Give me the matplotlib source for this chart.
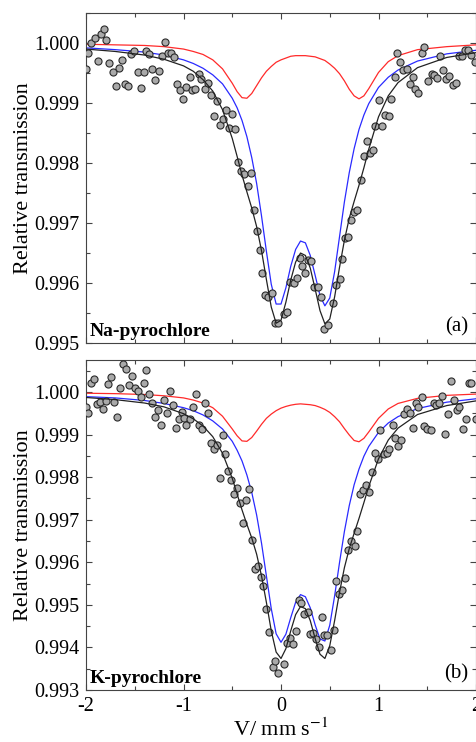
import matplotlib.pyplot as plt
from matplotlib.ticker import MultipleLocator, FormatStrFormatter

plt.rcParams['font.family'] = 'Liberation Serif'
plt.rcParams['mathtext.fontset'] = 'stix'
plt.rcParams['axes.unicode_minus'] = False

# Na-pyrochlore: measured spectrum
na_v = [-2.00, -1.98, -1.95, -1.91, -1.88, -1.85, -1.82, -1.79, -1.76, -1.72,
        -1.69, -1.66, -1.63, -1.60, -1.57, -1.54, -1.51, -1.47, -1.44, -1.41,
        -1.38, -1.35, -1.32, -1.29, -1.25, -1.22, -1.19, -1.16, -1.13, -1.10,
        -1.07, -1.04, -1.01, -0.97, -0.93, -0.91, -0.88, -0.84, -0.82, -0.78,
        -0.75, -0.72, -0.69, -0.66, -0.63, -0.60, -0.56, -0.53, -0.50, -0.47,
        -0.44, -0.41, -0.38, -0.34, -0.31, -0.28, -0.25, -0.22, -0.19, -0.16,
        -0.13, -0.09, -0.06, -0.03, 0.03, 0.065, 0.09, 0.13, 0.16, 0.195,
        0.215, 0.25, 0.275, 0.31, 0.34, 0.38, 0.41, 0.445, 0.48, 0.535,
        0.565, 0.605, 0.63, 0.655, 0.69, 0.72, 0.75, 0.78, 0.82, 0.85,
        0.88, 0.91, 0.94, 0.965, 1.01, 1.035, 1.07, 1.105, 1.13, 1.165,
        1.19, 1.225, 1.25, 1.29, 1.325, 1.35, 1.375, 1.41, 1.445, 1.47,
        1.51, 1.545, 1.57, 1.605, 1.635, 1.665, 1.69, 1.725, 1.76, 1.795,
        1.83, 1.855, 1.885, 1.92, 1.945, 1.99]
na_t = [0.99956, 0.99983, 1.00000, 1.00008, 0.99970, 1.00015, 1.00023, 1.00005, 0.99967, 0.99951,
        0.99929, 0.99958, 0.99972, 0.99932, 0.99928, 0.99981, 0.99986, 0.99951, 0.99925, 0.99952,
        0.99986, 0.99981, 0.99956, 0.99938, 0.99953, 0.99978, 1.00001, 0.99983, 0.99983, 0.99976,
        0.99931, 0.99922, 0.99906, 0.99926, 0.99943, 0.99921, 0.99924, 0.99948, 0.99940, 0.99923,
        0.99934, 0.99913, 0.99878, 0.99904, 0.99863, 0.99873, 0.99889, 0.99859, 0.99882, 0.99856,
        0.99802, 0.99787, 0.99782, 0.99762, 0.99784, 0.99722, 0.99687, 0.99655, 0.99616, 0.99580,
        0.99577, 0.99583, 0.99533, 0.99533, 0.99548, 0.99551, 0.99602, 0.99600, 0.99608, 0.99641,
        0.99628, 0.99616, 0.99638, 0.99637, 0.99593, 0.99593, 0.99576, 0.99524, 0.99530, 0.99566,
        0.99596, 0.99606, 0.99640, 0.99675, 0.99677, 0.99705, 0.99718, 0.99722, 0.99772, 0.99812,
        0.99837, 0.99816, 0.99822, 0.99861, 0.99905, 0.99861, 0.99880, 0.99878, 0.99906, 0.99944,
        0.99984, 0.99969, 0.99955, 0.99956, 0.99932, 0.99944, 0.99923, 0.99917, 0.99984, 0.99993,
        0.99936, 0.99948, 0.99947, 0.99941, 0.99978, 0.99955, 0.99940, 0.99945, 0.99930, 0.99934,
        0.99978, 0.99978, 0.99989, 0.99989, 0.99980, 0.99969]

# K-pyrochlore: measured spectrum
k_v = [-2.00, -1.98, -1.95, -1.92, -1.89, -1.86, -1.83, -1.80, -1.77, -1.74,
       -1.71, -1.68, -1.65, -1.62, -1.59, -1.56, -1.53, -1.50, -1.47, -1.44,
       -1.41, -1.38, -1.35, -1.32, -1.29, -1.26, -1.23, -1.20, -1.17, -1.14,
       -1.11, -1.08, -1.05, -1.02, -0.99, -0.97, -0.93, -0.90, -0.87, -0.84,
       -0.81, -0.78, -0.75, -0.72, -0.69, -0.66, -0.63, -0.60, -0.57, -0.54,
       -0.51, -0.48, -0.45, -0.42, -0.39, -0.36, -0.33, -0.30, -0.27, -0.24,
       -0.21, -0.18, -0.15, -0.12, -0.085, -0.06, -0.03, 0.03, 0.065, 0.09,
       0.125, 0.15, 0.18, 0.21, 0.24, 0.275, 0.30, 0.325, 0.36, 0.385,
       0.42, 0.445, 0.475, 0.51, 0.54, 0.565, 0.595, 0.625, 0.66, 0.69,
       0.72, 0.755, 0.78, 0.81, 0.845, 0.87, 0.905, 0.935, 0.96, 0.995,
       1.02, 1.06, 1.085, 1.11, 1.145, 1.17, 1.205, 1.23, 1.26, 1.29,
       1.32, 1.355, 1.385, 1.41, 1.445, 1.47, 1.50, 1.535, 1.565, 1.59,
       1.625, 1.655, 1.685, 1.715, 1.745, 1.775, 1.80, 1.83, 1.865, 1.895,
       1.925, 1.95, 2.00]
k_t = [0.99965, 0.99951, 1.00020, 1.00031, 0.99971, 0.99977, 0.99961, 0.99979, 1.00018, 1.00035,
       0.99977, 0.99940, 1.00010, 1.00065, 1.00054, 1.00016, 1.00037, 1.00010, 1.00002, 0.99988,
       1.00021, 1.00051, 0.99995, 0.99974, 0.99940, 0.99957, 0.99923, 0.99982, 0.99951, 1.00002,
       0.99969, 0.99916, 0.99936, 0.99953, 0.99939, 0.99922, 0.99937, 0.99965, 0.99996, 0.99922,
       0.99914, 0.99973, 0.99951, 0.99880, 0.99867, 0.99875, 0.99797, 0.99898, 0.99855, 0.99815,
       0.99794, 0.99760, 0.99775, 0.99739, 0.99692, 0.99747, 0.99771, 0.99653, 0.99584, 0.99592,
       0.99566, 0.99545, 0.99491, 0.99436, 0.99354, 0.99369, 0.99339, 0.99362, 0.99411, 0.99421,
       0.99408, 0.99439, 0.99512, 0.99505, 0.99478, 0.99484, 0.99431, 0.99433, 0.99419, 0.99400,
       0.99472, 0.99428, 0.99428, 0.99394, 0.99442, 0.99556, 0.99525, 0.99535, 0.99564, 0.99628,
       0.99650, 0.99638, 0.99674, 0.99761, 0.99769, 0.99781, 0.99765, 0.99812, 0.99857, 0.99843,
       0.99910, 0.99855, 0.99857, 0.99867, 0.99922, 0.99893, 0.99873, 0.99888, 0.99948, 0.99961,
       0.99951, 0.99916, 0.99974, 0.99965, 0.99988, 0.99919, 0.99914, 0.99910, 0.99973, 0.99969,
       0.99974, 0.99990, 0.99902, 0.99949, 1.00026, 0.99981, 0.99958, 0.99965, 0.99914, 0.99937,
       1.00021, 1.00021, 0.99937]

# fitted curves: total envelope (black), main doublet (blue), minor doublet (red)
fit_v = [-2.0, -1.7, -1.4, -1.2, -1.0, -0.9, -0.8, -0.7, -0.6, -0.5,
         -0.45, -0.4, -0.35, -0.3, -0.25, -0.2, -0.15, -0.1, -0.05, 0.0,
         0.05, 0.1, 0.15, 0.2, 0.25, 0.3, 0.35, 0.4, 0.45, 0.5,
         0.55, 0.6, 0.65, 0.7, 0.75, 0.8, 0.85, 0.9, 1.0, 1.1,
         1.2, 1.4, 1.7, 2.0]

na_fit = [0.99990, 0.99986, 0.99980, 0.99973, 0.99962, 0.99953, 0.99939, 0.99920, 0.99889, 0.99841,
          0.99811, 0.99780, 0.99752, 0.99725, 0.99694, 0.99654, 0.99606, 0.99560, 0.99533, 0.99538,
          0.99568, 0.99605, 0.99635, 0.99650, 0.99646, 0.99625, 0.99590, 0.99554, 0.99532, 0.99540,
          0.99577, 0.99626, 0.99671, 0.99708, 0.99736, 0.99763, 0.99792, 0.99823, 0.99877, 0.99912,
          0.99934, 0.99959, 0.99976, 0.99984]
na_d1 = [0.99992, 0.99989, 0.99985, 0.99980, 0.99972, 0.99966, 0.99958, 0.99947, 0.99932, 0.99908,
         0.99892, 0.99871, 0.99844, 0.99809, 0.99766, 0.99712, 0.99653, 0.99598, 0.99565, 0.99565,
         0.99592, 0.99628, 0.99656, 0.99670, 0.99667, 0.99646, 0.99613, 0.99579, 0.99562, 0.99575,
         0.99619, 0.99677, 0.99735, 0.99784, 0.99824, 0.99856, 0.99880, 0.99899, 0.99926, 0.99943,
         0.99955, 0.99970, 0.99982, 0.99988]
na_d2 = [0.99998, 0.99997, 0.99996, 0.99994, 0.99990, 0.99986, 0.99981, 0.99972, 0.99957, 0.99933,
         0.99919, 0.99909, 0.99908, 0.99916, 0.99929, 0.99942, 0.99953, 0.99961, 0.99968, 0.99972,
         0.99975, 0.99978, 0.99979, 0.99979, 0.99979, 0.99978, 0.99977, 0.99974, 0.99971, 0.99965,
         0.99958, 0.99949, 0.99937, 0.99923, 0.99912, 0.99907, 0.99912, 0.99924, 0.99951, 0.99969,
         0.99979, 0.99989, 0.99994, 0.99997]

k_fit = [0.99987, 0.99982, 0.99974, 0.99965, 0.99949, 0.99937, 0.99920, 0.99895, 0.99856, 0.99797,
         0.99760, 0.99723, 0.99689, 0.99657, 0.99619, 0.99568, 0.99506, 0.99439, 0.99389, 0.99374,
         0.99397, 0.99439, 0.99477, 0.99496, 0.99491, 0.99463, 0.99421, 0.99384, 0.99374, 0.99404,
         0.99463, 0.99529, 0.99587, 0.99632, 0.99668, 0.99703, 0.99740, 0.99778, 0.99843, 0.99887,
         0.99915, 0.99947, 0.99968, 0.99979]
k_d1 = [0.99989, 0.99986, 0.99980, 0.99973, 0.99963, 0.99956, 0.99946, 0.99932, 0.99913, 0.99884,
        0.99863, 0.99838, 0.99805, 0.99764, 0.99711, 0.99645, 0.99568, 0.99491, 0.99432, 0.99412,
        0.99431, 0.99470, 0.99506, 0.99524, 0.99519, 0.99493, 0.99453, 0.99420, 0.99415, 0.99452,
        0.99521, 0.99599, 0.99672, 0.99733, 0.99782, 0.99819, 0.99849, 0.99872, 0.99905, 0.99927,
        0.99942, 0.99961, 0.99976, 0.99984]
k_d2 = [0.99997, 0.99996, 0.99994, 0.99991, 0.99986, 0.99981, 0.99974, 0.99963, 0.99943, 0.99913,
        0.99897, 0.99885, 0.99884, 0.99893, 0.99908, 0.99924, 0.99938, 0.99948, 0.99956, 0.99962,
        0.99966, 0.99969, 0.99971, 0.99972, 0.99971, 0.99970, 0.99968, 0.99964, 0.99959, 0.99952,
        0.99942, 0.99930, 0.99914, 0.99899, 0.99886, 0.99883, 0.99891, 0.99906, 0.99938, 0.99960,
        0.99973, 0.99985, 0.99992, 0.99995]

fig = plt.figure(figsize=(4.76, 7.42), dpi=100)
ax1 = fig.add_axes([0.1807, 0.5377, 0.8193, 0.4447])
ax2 = fig.add_axes([0.1807, 0.0701, 0.8193, 0.4447])

panels = [
    (ax1, na_v, na_t, na_fit, na_d1, na_d2, 'Na-pyrochlore', '(a)', (0.995, 1.0005)),
    (ax2, k_v, k_t, k_fit, k_d1, k_d2, 'K-pyrochlore', '(b)', (0.993, 1.00075)),
]

for ax, v, t, fit, d1, d2, name, tag, ylim in panels:
    ax.plot(fit_v, d2, color='#ff2a2a', lw=0.9, zorder=2)
    ax.plot(fit_v, d1, color='#2a2aff', lw=0.9, zorder=2)
    ax.scatter(v, t, s=26, c='#a9a9a9', edgecolors='#2a2a2a', linewidths=0.8, zorder=3)
    ax.plot(fit_v, fit, color='#222222', lw=0.9, zorder=4)

    ax.set_xlim(-2, 2)
    ax.set_ylim(*ylim)
    ax.xaxis.set_major_locator(MultipleLocator(1))
    ax.xaxis.set_minor_locator(MultipleLocator(0.5))
    ax.yaxis.set_major_locator(MultipleLocator(0.001))
    ax.yaxis.set_minor_locator(MultipleLocator(0.0005))
    ax.yaxis.set_major_formatter(FormatStrFormatter('%.3f'))

    ax.tick_params(which='both', direction='in', top=True, right=True,
                   width=0.8, color='#444444', labelsize=14.5, pad=5)
    ax.tick_params(which='major', length=4)
    ax.tick_params(which='minor', length=3)
    for sp in ax.spines.values():
        sp.set_color('#444444')
        sp.set_linewidth(0.8)

    ax.set_ylabel('Relative transmission', fontsize=16)
    ax.yaxis.set_label_coords(-0.136, 0.5)

    ax.text(0.01, 0.02, name, transform=ax.transAxes, fontsize=14,
            fontweight='bold', ha='left', va='baseline')
    ax.text(0.979, 0.035, tag, transform=ax.transAxes, fontsize=15,
            ha='right', va='baseline')

ax1.tick_params(labelbottom=False)
ax2.set_xlabel(r'V/ mm s$^{-1}$', fontsize=16, labelpad=2)

plt.savefig('out.png', dpi=100)
